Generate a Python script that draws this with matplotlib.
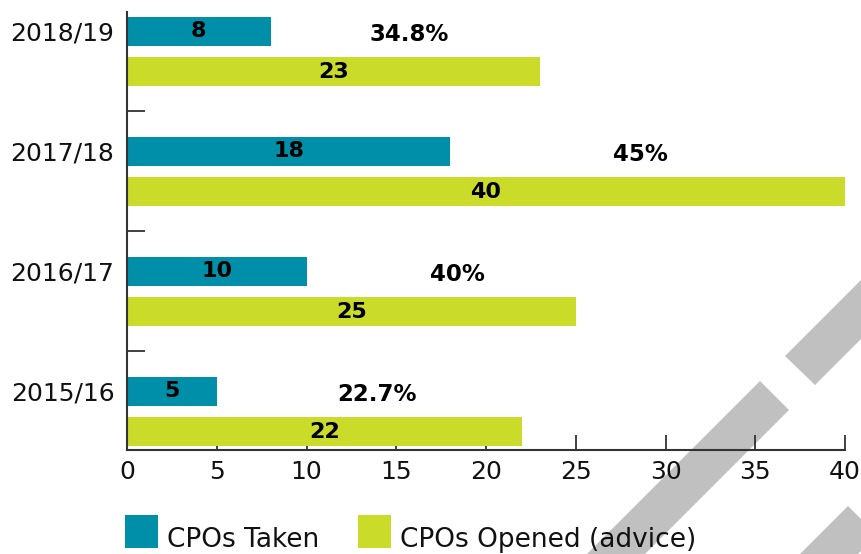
import matplotlib
matplotlib.use("Agg")
import matplotlib.pyplot as plt
from matplotlib.patches import Polygon, Rectangle
import numpy as np

# ---- data ----
years = ["2015/16", "2016/17", "2017/18", "2018/19"]
cpos_taken = [5, 10, 18, 8]
cpos_opened = [22, 25, 40, 23]
pct_labels = ["22.7%", "40%", "45%", "34.8%"]
series_names = ["CPOs Taken", "CPOs Opened (advice)"]
x_ticks = [0, 5, 10, 15, 20, 25, 30, 35, 40]

# ---- layout ----
pct_x = [13.9, 18.4, 28.6, 15.7]
TEAL = "#008FA9"
GREEN = "#CBDB2A"
GREY = "#C0C0C0"
W, H = 862, 554

plt.rcParams["font.family"] = ["DejaVu Sans"]
fig = plt.figure(figsize=(W / 100, H / 100), dpi=100)
ax = fig.add_axes([127 / W, 1 - 450 / H, (845 - 127) / W, (450 - 12) / H])
ax.set_facecolor("none")

y = np.arange(len(years))
bh = 0.242
off = 0.167
ax.barh(y + off, cpos_taken, height=bh, color=TEAL, zorder=2)
ax.barh(y - off, cpos_opened, height=bh, color=GREEN, zorder=2)

for yi, v in zip(y, cpos_taken):
    ax.text(v / 2, yi + off, str(v), ha="center", va="center",
            fontsize=16, fontweight="bold", color="black", zorder=3)
for yi, v in zip(y, cpos_opened):
    ax.text(v / 2, yi - off, str(v), ha="center", va="center",
            fontsize=16, fontweight="bold", color="black", zorder=3)
for yi, px, lab in zip(y, pct_x, pct_labels):
    ax.text(px, yi + off - 0.025, lab, ha="center", va="center",
            fontsize=16.5, fontweight="bold", color="black", zorder=3)

ax.set_xlim(0, 40)
ax.set_ylim(-0.321, 3.329)
ax.set_xticks(x_ticks)
ax.set_xticklabels([str(t) for t in x_ticks])
ax.set_yticks(y + off)
ax.set_yticklabels(years)
ax.set_yticks([0.5, 1.5, 2.5], minor=True)

ax.tick_params(axis="x", direction="in", length=11, width=1.3, color="#333333",
               labelsize=18, pad=7, labelcolor="#111111")
ax.tick_params(axis="y", which="major", length=0, labelsize=18, pad=9,
               labelcolor="#111111")
ax.tick_params(axis="y", which="minor", direction="in", length=13, width=1.3,
               color="#333333")

for s in ["top", "right"]:
    ax.spines[s].set_visible(False)
for s in ["left", "bottom"]:
    ax.spines[s].set_color("#333333")
    ax.spines[s].set_linewidth(1.5)


def fpoly(pts, **kw):
    p = Polygon([(px / W, 1 - py / H) for px, py in pts], closed=True,
                transform=fig.transFigure, **kw)
    fig.add_artist(p)
    return p

# watermark stripes (behind everything)
for poly in [
    [(760, 381), (789, 410), (489, 710), (460, 681)],
    [(785, 356), (815, 385), (1015, 185), (985, 156)],
    [(848, 506), (877, 535), (677, 735), (648, 706)],
]:
    fpoly(poly, facecolor=GREY, edgecolor="none", zorder=-5)

# legend
for x0, col, name, tx in [(125, TEAL, series_names[0], 167),
                          (358, GREEN, series_names[1], 400)]:
    r = Rectangle((x0 / W, 1 - 548 / H), 33 / W, 33 / H, transform=fig.transFigure,
                  facecolor=col, edgecolor="none")
    fig.add_artist(r)
    fig.text(tx / W, 1 - 547 / H, name, ha="left", va="baseline", fontsize=19,
             color="#111111")

fig.savefig("out.png", dpi=100)
